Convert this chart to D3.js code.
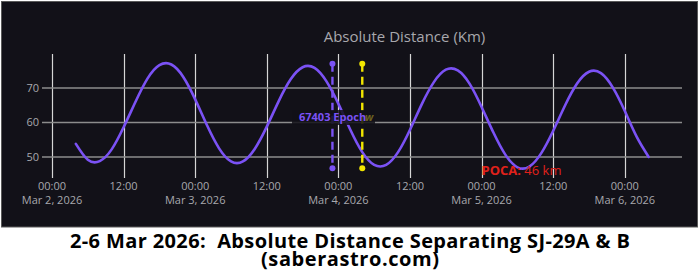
<!DOCTYPE html>
<html><head><meta charset="utf-8">
<script src="https://cdn.jsdelivr.net/npm/d3@7"></script>
<style>
html,body{margin:0;padding:0;background:#fff;}
svg{display:block;font-family:"Open Sans",sans-serif;}
.cap{white-space:pre;}
</style></head>
<body><svg id="c" width="700" height="276"></svg>
<script>
// ---- data ----
const startTime = "2026-03-02T04:00:00Z";   // first sample
const stepHours = 2;                         // sample spacing
const distanceKm = [53.8,49.2,48.8,52.2,58.6,66.0,72.7,76.6,
  76.8,73.2,66.7,59.1,52.5,48.7,
  48.7,52.4,58.8,66.2,72.5,76.0,
  75.8,71.9,65.4,57.9,51.4,47.7,
  47.7,51.4,57.9,65.4,71.7,75.3,
  75.1,71.2,64.5,57.0,50.6,47.0,
  47.2,51.1,57.6,65.0,71.3,74.7,
  74.3,70.1,63.3,55.8,50.0];
const yTicks = [50,60,70];
const xDomain = ["2026-03-01T22:19:30Z","2026-03-06T09:35:00Z"];
const yDomain = [43.9,79.85];
const markers = [
  {time:"2026-03-03T23:00:00Z", lo:46.7, hi:77.0, color:"#7b52f5", label:"67403 Epoch"},
  {time:"2026-03-04T04:00:00Z", lo:46.7, hi:77.0, color:"#f2e600", label:"w"}
];
const poca = {value:46};
const titleText = "Absolute Distance (Km)";
const caption = ["2-6 Mar 2026:  Absolute Distance Separating SJ-29A & B","(saberastro.com)"];
const captionWidths = [560,178];

// ---- layout ----
const svg = d3.select("#c");
const L=42,R=682,T=54,B=178;
const x = d3.scaleUtc().domain(xDomain.map(d=>new Date(d))).range([L,R]);
const y = d3.scaleLinear().domain(yDomain).range([B,T]);
const t0 = new Date(startTime).getTime();
const pts = distanceKm.map((v,i)=>({t:new Date(t0+i*stepHours*3600e3), v}));

svg.append("rect").attr("x",1.5).attr("y",1.5).attr("width",696).attr("height",225.5)
  .attr("fill","#121118").attr("stroke","#5a5a5a").attr("stroke-width",1);

// title
svg.append("text").attr("x",404.5).attr("y",42).attr("text-anchor","middle")
  .attr("fill","#a8a8ad").attr("font-size",15).text(titleText);

// vertical grid
const xt = d3.utcHour.every(12).range(new Date(xDomain[0]), new Date(xDomain[1]));
svg.append("g").selectAll("line").data(xt).join("line")
  .attr("x1",d=>Math.round(x(d))+0.5).attr("x2",d=>Math.round(x(d))+0.5)
  .attr("y1",T).attr("y2",B).attr("stroke","#d6d6d6").attr("stroke-width",1.2);
// horizontal grid
svg.append("g").selectAll("line").data(yTicks).join("line")
  .attr("x1",L).attr("x2",R).attr("y1",d=>y(d)).attr("y2",d=>y(d))
  .attr("stroke","#8c8c8c").attr("stroke-width",1.6);

// y labels
svg.append("g").selectAll("text").data(yTicks).join("text")
  .attr("x",39).attr("y",d=>y(d)+4).attr("text-anchor","end")
  .attr("fill","#a8a8ad").attr("font-size",11).text(d=>d);
// x labels
const fmtT = d3.utcFormat("%H:%M");
const fmtD = d3.utcFormat("%b %-d, %Y");
const xl = svg.append("g").selectAll("text").data(xt).join("text")
  .attr("x",d=>x(d)).attr("y",190).attr("text-anchor","middle")
  .attr("fill","#a8a8ad").attr("font-size",11);
xl.append("tspan").attr("x",d=>x(d)).text(d=>fmtT(d));
xl.filter(d=>d.getUTCHours()===0).append("tspan").attr("x",d=>x(d)).attr("dy",14).text(d=>fmtD(d));

// curve
svg.append("path").datum(pts)
  .attr("d",d3.line().x(d=>x(d.t)).y(d=>y(d.v)).curve(d3.curveNatural))
  .attr("fill","none").attr("stroke","#7b52f5").attr("stroke-width",2.6).attr("stroke-linecap","round");

// markers
markers.forEach(m=>{
  const mx = x(new Date(m.time));
  svg.append("line").attr("x1",mx).attr("x2",mx).attr("y1",y(m.hi)).attr("y2",y(m.lo))
    .attr("stroke",m.color).attr("stroke-width",2.4).attr("stroke-dasharray","8,5");
  [m.hi,m.lo].forEach(v=>svg.append("circle").attr("cx",mx).attr("cy",y(v)).attr("r",3).attr("fill",m.color));
});
// label box + texts
const yel = markers[1], pur = markers[0];
svg.append("rect").attr("x",292).attr("y",110).attr("width",83).attr("height",15)
  .attr("fill","#121118").attr("opacity",0.85);
svg.append("text").attr("x",365).attr("y",121)
  .attr("fill","#6a6220").attr("font-size",10.5).attr("font-weight","bold").attr("font-style","italic").text(yel.label);
svg.append("text").attr("x",299).attr("y",121)
  .attr("fill",pur.color).attr("font-size",11).attr("font-weight","bold").text(pur.label);

// POCA
const pt = svg.append("text").attr("x",481.5).attr("y",174.5).attr("fill","#e0211b").attr("font-size",13);
pt.append("tspan").attr("font-weight","bold").text("POCA:");
pt.append("tspan").text(" "+poca.value+" km");

// caption
svg.selectAll("text.cap").data(caption).join("text").attr("class","cap")
  .attr("x",350).attr("y",(d,i)=>248+i*18).attr("text-anchor","middle")
  .attr("fill","#000").attr("font-size",20).attr("font-weight","bold")
  .attr("textLength",(d,i)=>captionWidths[i]).attr("lengthAdjust","spacing").text(d=>d);
</script></body></html>
